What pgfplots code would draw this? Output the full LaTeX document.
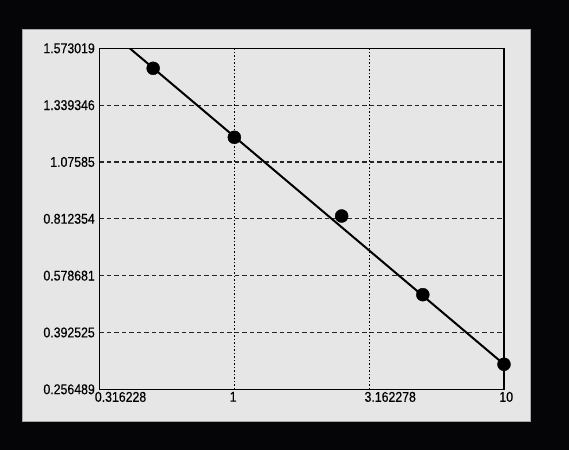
\documentclass[border=0pt]{standalone}
\usepackage{fontspec}
\setmainfont[FakeStretch=0.87, FakeBold=0.3]{Liberation Sans}
\usepackage{pgfplots}
\pgfplotsset{compat=1.18}
\definecolor{panel}{RGB}{230,230,230}
\definecolor{bg}{RGB}{5,5,8}
\begin{document}
\begin{tikzpicture}
\useasboundingbox (0,0) rectangle (569bp,450bp);
\fill[bg] (0,0) rectangle (569bp,450bp);
\filldraw[fill=panel, draw=gray!70, line width=0.6bp] (22bp,28.3bp) rectangle (530bp,420.7bp);
\begin{axis}[
    at={(99.5bp,60.7bp)}, anchor=south west,
    scale only axis,
    width=404.5bp, height=341bp,
    xmode=log,
    xmin=0.316228, xmax=10,
    ymin=0, ymax=6,
    xtick={0.316228,1,3.162278,10},
    xticklabels={0.316228,1,3.162278,10},
    ytick={0,1,2,3,4,5,6},
    yticklabels={0.256489,0.392525,0.578681,0.812354,1.07585,1.339346,1.573019},
    major tick length=0pt,
    minor tick num=0,
    log basis x=10,
    xmajorgrids=true, ymajorgrids=true,
    major x grid style={black, line width=1bp, dash pattern=on 1.5bp off 2bp},
    major y grid style={black!85, line width=1.1bp, dash pattern=on 4.5bp off 3bp},
    axis line style={black, line width=1.4bp},
    axis background/.style={fill=panel},
    tick label style={font=\fontsize{14.2}{16}\selectfont, inner sep=0pt},
    xticklabel style={anchor=north west, xshift=-4.8bp, yshift=-2.4bp},
    yticklabel style={anchor=east, xshift=-4.5bp},
    clip mode=individual,
]
% fitted line
\addplot[black, line width=2bp] coordinates {(0.38,6.13) (10,0.44)};
% data points
\addplot[only marks, mark=*, mark size=6.5bp, mark options={fill=black, draw=black}] coordinates {
    (0.5,5.648)
    (1,4.434)
    (2.5,3.049)
    (5,1.665)
    (10,0.44)
};
\end{axis}
\end{tikzpicture}
\end{document}
